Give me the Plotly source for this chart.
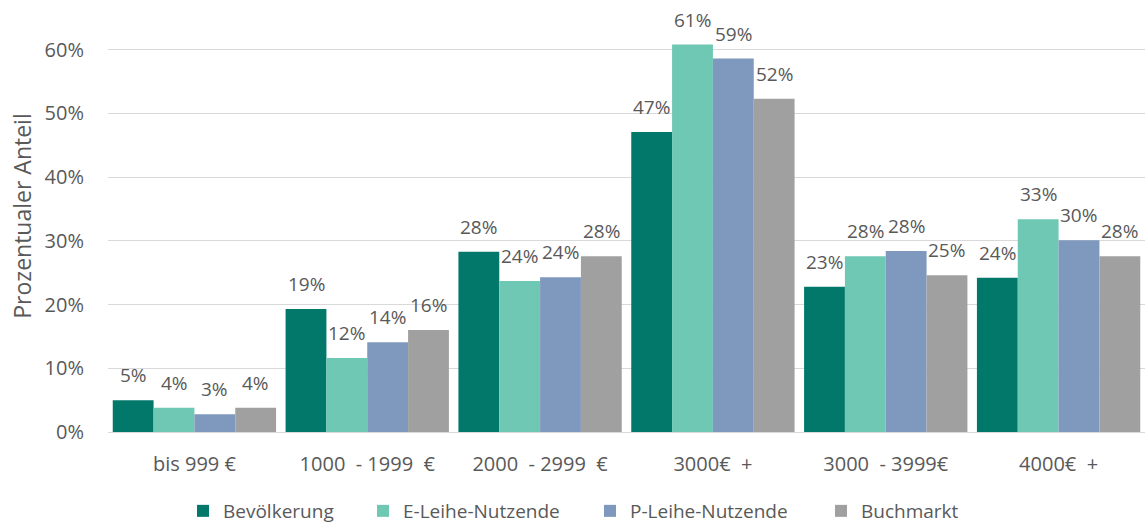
import plotly.graph_objects as go

# Income groups (net household income per month)
categories = ["bis 999 €", "1000  - 1999  €", "2000  - 2999  €", "3000€  +", "3000  - 3999€", "4000€  +"]

# Share of each group in percent
bevoelkerung = [5.0, 19.3, 28.3, 47.1, 22.8, 24.2]
e_leihe = [3.8, 11.6, 23.7, 60.8, 27.6, 33.4]
p_leihe = [2.8, 14.1, 24.3, 58.6, 28.4, 30.1]
buchmarkt = [3.8, 16.0, 27.6, 52.3, 24.6, 27.6]

y_ticks = [0, 10, 20, 30, 40, 50, 60]
y_tick_labels = [f"{v}%" for v in y_ticks]

series = [
    ("Bevölkerung", bevoelkerung, "#02786a"),
    ("E-Leihe-Nutzende", e_leihe, "#6fc8b4"),
    ("P-Leihe-Nutzende", p_leihe, "#7f98bd"),
    ("Buchmarkt", buchmarkt, "#a0a0a0"),
]

font_family = "Open Sans, Noto Sans, sans-serif"
text_color = "#595959"

# plot area geometry in pixels
W, H = 1145, 527
left, right, top, bottom = 108, 0, 0, 95
plot_w = W - left - right
plot_h = H - top - bottom
bargap = 0.055
bar_w = plot_w / len(categories) * (1 - bargap) / len(series)
legend_centers_px = [203, 383, 610, 841]
legend_mid_px = 511

fig = go.Figure()
legend_names = ["legend", "legend2", "legend3", "legend4"]
for i, ((name, values, color), lg) in enumerate(zip(series, legend_names)):
    fig.add_trace(go.Bar(
        name=name,
        x=categories,
        y=values,
        marker=dict(color=color, line=dict(width=0)),
        legend=lg,
    ))
    # value labels above each bar, offset to the bar's slot in the group
    offset = (i - (len(series) - 1) / 2) * bar_w
    for cat, v in zip(categories, values):
        fig.add_annotation(
            x=cat, y=v, xref="x", yref="y",
            text=f"{round(v + 1e-9):.0f}%",
            showarrow=False,
            xanchor="center", yanchor="middle",
            xshift=offset, yshift=25,
            font=dict(family=font_family, size=19, color=text_color),
        )

legend_layout = {}
for lg, cx in zip(legend_names, legend_centers_px):
    legend_layout[lg] = dict(
        orientation="h",
        x=(cx - 20 - left) / plot_w,
        xanchor="left",
        y=(plot_h - legend_mid_px + top) / plot_h,
        yanchor="middle",
        font=dict(family=font_family, size=19, color=text_color),
        itemwidth=30,
        bgcolor="rgba(0,0,0,0)",
    )

fig.update_layout(
    width=W,
    height=H,
    margin=dict(l=left, r=right, t=top, b=bottom, autoexpand=False),
    paper_bgcolor="white",
    plot_bgcolor="white",
    barmode="group",
    bargap=bargap,
    bargroupgap=0,
    showlegend=True,
    font=dict(family=font_family, color=text_color),
    xaxis=dict(
        showline=True,
        linecolor="#d9d9d9",
        linewidth=1,
        ticks="",
        tickfont=dict(size=20, color=text_color),
        ticklabelstandoff=14,
        automargin=False,
    ),
    yaxis=dict(
        range=[0, 67.8],
        tickvals=y_ticks,
        ticktext=y_tick_labels,
        showgrid=True,
        gridcolor="#d9d9d9",
        gridwidth=1,
        zeroline=False,
        tickfont=dict(size=20, color=text_color),
        ticklabelstandoff=23,
        automargin=False,
        title=dict(text="Prozentualer Anteil", font=dict(size=23, color=text_color), standoff=6),
    ),
    **legend_layout,
)

fig.write_html("out.html")
